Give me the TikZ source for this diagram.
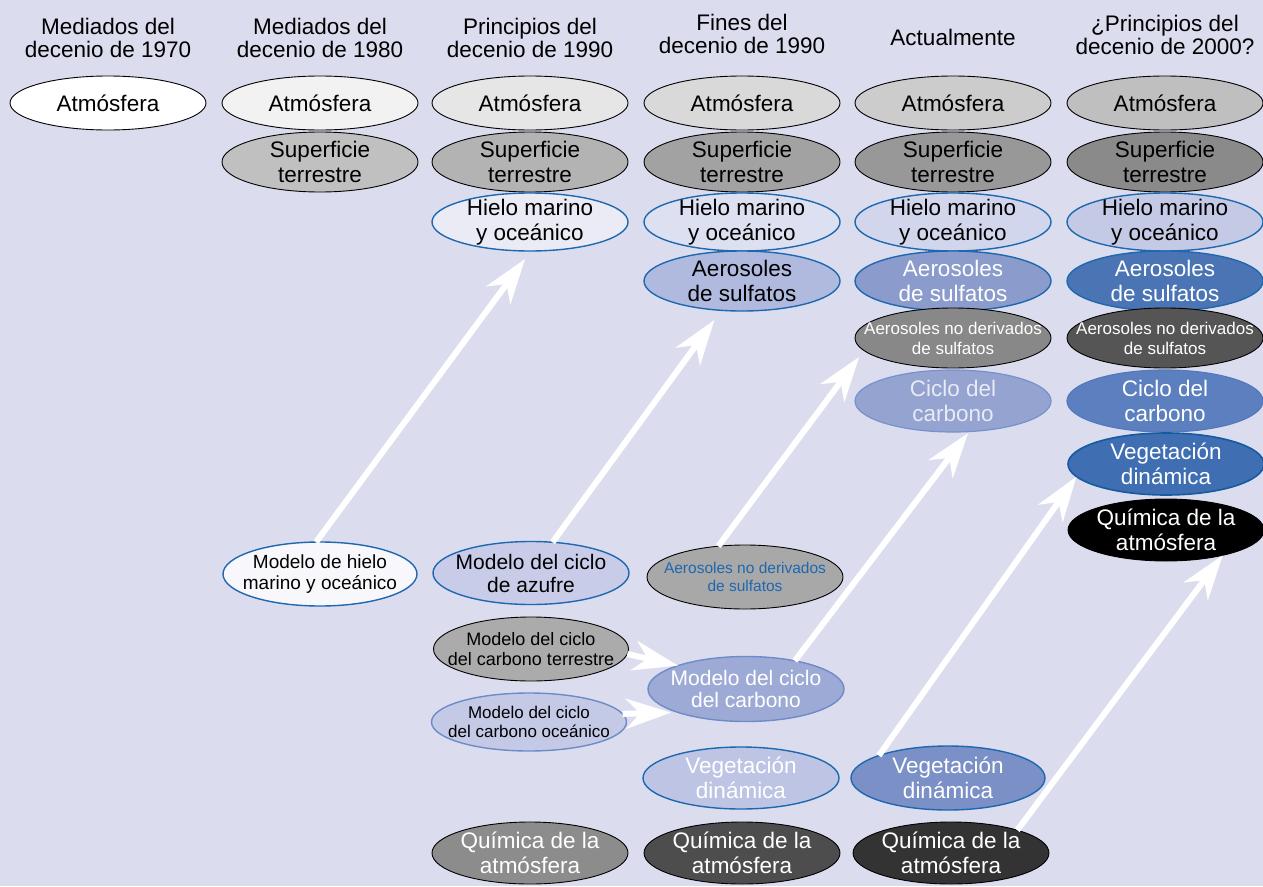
\documentclass[tikz,border=0pt]{standalone}
\usepackage{fontspec}
\setmainfont{Liberation Sans}
\usetikzlibrary{shapes.geometric,arrows.meta}
\definecolor{bg}{RGB}{219,221,238}
\definecolor{bblue}{RGB}{30,104,176}
\definecolor{lblue}{RGB}{108,139,200}
\definecolor{atmB}{RGB}{242,242,242}
\definecolor{atmC}{RGB}{230,230,230}
\definecolor{atmD}{RGB}{217,217,217}
\definecolor{atmE}{RGB}{204,204,204}
\definecolor{atmF}{RGB}{191,191,191}
\definecolor{supB}{RGB}{192,192,192}
\definecolor{supC}{RGB}{179,179,179}
\definecolor{supD}{RGB}{162,162,162}
\definecolor{supE}{RGB}{152,152,152}
\definecolor{supF}{RGB}{138,138,138}
\definecolor{hieC}{RGB}{234,235,245}
\definecolor{hieD}{RGB}{221,224,240}
\definecolor{hieE}{RGB}{210,214,236}
\definecolor{hieF}{RGB}{196,202,230}
\definecolor{aesD}{RGB}{176,186,222}
\definecolor{aesE}{RGB}{138,155,204}
\definecolor{aesF}{RGB}{74,116,180}
\definecolor{aenD}{RGB}{168,168,168}
\definecolor{aenE}{RGB}{136,136,136}
\definecolor{aenF}{RGB}{85,85,85}
\definecolor{cicE}{RGB}{149,163,208}
\definecolor{cicF}{RGB}{91,127,191}
\definecolor{cicEb}{RGB}{118,146,204}
\definecolor{cicFb}{RGB}{84,120,188}
\definecolor{cicEt}{RGB}{232,234,246}
\definecolor{vegD}{RGB}{190,197,228}
\definecolor{vegE}{RGB}{122,144,198}
\definecolor{vegF}{RGB}{63,110,178}
\definecolor{vegFb}{RGB}{22,90,160}
\definecolor{quiC}{RGB}{140,140,140}
\definecolor{quiD}{RGB}{77,77,77}
\definecolor{quiE}{RGB}{51,51,51}
\definecolor{modH}{RGB}{248,248,252}
\definecolor{modA}{RGB}{200,204,232}
\definecolor{modT}{RGB}{171,171,171}
\definecolor{modO}{RGB}{196,201,230}
\definecolor{modC}{RGB}{157,170,214}
\begin{document}
\begin{tikzpicture}[x=1pt,y=-1pt,
  ell/.style={ellipse, inner sep=0pt, outer sep=0pt, minimum width=196pt,
    minimum height=60pt, draw=black, line width=0.9pt},
  bb/.style={draw=bblue, line width=1.4pt},
  lb/.style={draw=lblue, line width=1.4pt},
  t/.style 2 args={align=center, inner sep=0pt, font=\fontsize{#1}{#2}\selectfont},
  big/.style={t={22.5}{25}},
  head/.style={t={22.5}{23.5}},
  arr/.style={draw=white, line width=6pt, -{Stealth[length=45pt,width=30pt,inset=14pt]}}
]
\fill[bg] (0,0) rectangle (1263,886);
\useasboundingbox (0,0) rectangle (1263,886);

% headers
\node[head] (h1) at (108,38) {Mediados del\\decenio de 1970};
\node[head] (h2) at (320,38) {Mediados del\\decenio de 1980};
\node[head] (h3h) at (530,38) {Principios del\\decenio de 1990};
\node[head] (h4) at (742,34) {Fines del\\decenio de 1990};
\node[head] (h5) at (953,37) {Actualmente};
\node[head] (h6) at (1165,35) {¿Principios del\\decenio de 2000?};

% row: atmosfera
\node[ell, minimum height=54pt, fill=white, label={[big]center:Atmósfera}] (a1) at (108,103) {};
\node[ell, minimum height=54pt, fill=atmB, label={[big]center:Atmósfera}] (a2) at (320,103) {};
\node[ell, minimum height=54pt, fill=atmC, label={[big]center:Atmósfera}] (a3) at (530,103) {};
\node[ell, minimum height=54pt, fill=atmD, label={[big]center:Atmósfera}] (a4) at (742,103) {};
\node[ell, minimum height=54pt, fill=atmE, label={[big]center:Atmósfera}] (a5) at (953,103) {};
\node[ell, minimum height=54pt, fill=atmF, label={[big]center:Atmósfera}] (a6) at (1165,103) {};

% row: superficie
\node[ell, fill=supB, label={[big]center:Superficie\\terrestre}] (s2) at (320,162) {};
\node[ell, fill=supC, label={[big]center:Superficie\\terrestre}] (s3) at (530,162) {};
\node[ell, fill=supD, label={[big]center:Superficie\\terrestre}] (s4) at (742,162) {};
\node[ell, fill=supE, label={[big]center:Superficie\\terrestre}] (s5) at (953,162) {};
\node[ell, fill=supF, label={[big]center:Superficie\\terrestre}] (s6) at (1165,162) {};

% row: hielo
\node[ell, bb, minimum height=58pt, fill=hieC, label={[big]center:Hielo marino\\y oceánico}] (h3) at (530,222) {};
\node[ell, bb, minimum height=58pt, fill=hieD, label={[big]center:Hielo marino\\y oceánico}] (hi4) at (742,222) {};
\node[ell, bb, minimum height=58pt, fill=hieE, label={[big]center:Hielo marino\\y oceánico}] (hi5) at (953,222) {};
\node[ell, bb, minimum height=58pt, fill=hieF, label={[big]center:Hielo marino\\y oceánico}] (hi6) at (1165,222) {};

% row: aerosoles de sulfatos
\node[ell, bb, fill=aesD, label={[big]center:Aerosoles\\de sulfatos}] (as4) at (742,281) {};
\node[ell, bb, fill=aesE, label={[big,text=white]center:Aerosoles\\de sulfatos}] (as5) at (953,281) {};
\node[ell, bb, fill=aesF, label={[big,text=white]center:Aerosoles\\de sulfatos}] (as6) at (1165,281) {};

% row: aerosoles no derivados
\node[ell, fill=aenE, label={[t={17}{20},text=white]center:Aerosoles no derivados\\de sulfatos}] (an5) at (953,338) {};
\node[ell, fill=aenF, label={[t={17}{20},text=white]center:Aerosoles no derivados\\de sulfatos}] (an6) at (1165,338) {};

% row: ciclo del carbono
\node[ell, draw=cicEb, line width=1.2pt, minimum height=62pt, fill=cicE, label={[big,text=cicEt]center:Ciclo del\\carbono}] (ci5) at (953,401) {};
\node[ell, draw=cicFb, line width=1.2pt, minimum height=62pt, fill=cicF, label={[big,text=white]center:Ciclo del\\carbono}] (ci6) at (1165,401) {};

% row: vegetacion / quimica (col 6)
\node[ell, draw=vegFb, line width=1.6pt, minimum height=62pt, fill=vegF, label={[big,text=white]center:Vegetación\\dinámica}] (ve6) at (1166,464) {};
\node[ell, minimum height=62pt, fill=black, label={[big,text=white]center:Química de la\\atmósfera}] (q6) at (1166,530) {};

% lower models
\node[ell, bb, minimum width=194pt, minimum height=64pt, fill=modH, label={[t={19}{20.5}]center:Modelo de hielo\\marino y oceánico}] (hm) at (320,574) {};
\node[ell, bb, minimum height=63pt, fill=modA, label={[t={21}{23}]center:Modelo del ciclo\\de azufre}] (az) at (531,573) {};
\node[ell, minimum height=64pt, fill=aenD, label={[t={15.5}{18.5},text=bblue]center:Aerosoles no derivados\\de sulfatos}] (an4) at (745,577) {};
\node[ell, minimum width=195pt, minimum height=64pt, fill=modT, label={[t={18}{20}]center:Modelo del ciclo\\del carbono terrestre}] (tc) at (531,649) {};
\node[ell, lb, minimum width=195pt, minimum height=58pt, fill=modO, label={[t={17}{19}]center:Modelo del ciclo\\del carbono oceánico}] (oc) at (529,722) {};
\node[ell, lb, minimum height=65pt, fill=modC, label={[t={21}{22.5},text=white]center:Modelo del ciclo\\del carbono}] (mc) at (746,689) {};

\node[ell, bb, minimum height=62pt, fill=vegD, label={[big,text=white]center:Vegetación\\dinámica}] (ve4) at (741,778) {};
\node[ell, bb, minimum width=194pt, minimum height=64pt, fill=vegE, label={[big,text=white]center:Vegetación\\dinámica}] (ve5) at (948,778) {};

\node[ell, minimum height=62pt, fill=quiC, label={[big,text=white]center:Química de la\\atmósfera}] (q3) at (530,853) {};
\node[ell, minimum height=62pt, fill=quiD, label={[big,text=white]center:Química de la\\atmósfera}] (q4) at (742,853) {};
\node[ell, minimum height=62pt, fill=quiE, label={[big,text=white]center:Química de la\\atmósfera}] (q5) at (951,853) {};

% arrows
\draw[arr, shorten >=10pt] (hm.97) -- (h3.272);
\draw[arr, shorten >=12pt] (az.55) -- (as4.235);
\draw[arr, shorten >=8pt] (an4.131) -- (an5.188);
\draw[arr, shorten >=2pt] (mc.30) -- (ci5.298);
\draw[arr] (ve5.162) -- (ve6.188);
\draw[arr] (q5.19) -- (q6.336);
\draw[arr] (tc.-3) -- (mc.161);
\draw[arr, shorten >=7pt] (oc.5) -- (mc.199);
\end{tikzpicture}
\end{document}
